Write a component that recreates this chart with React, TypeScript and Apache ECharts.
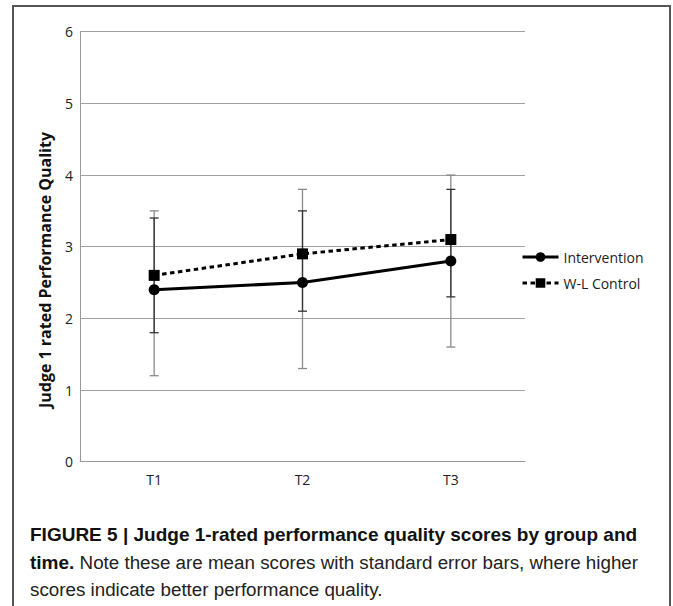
import React, { useEffect, useRef } from "react";
import * as echarts from "echarts";

const categories = ["T1", "T2", "T3"];
const interventionMeans = [2.4, 2.5, 2.8];
const controlMeans = [2.6, 2.9, 3.1];
const interventionLow = [1.2, 1.3, 1.6];
const interventionHigh = [3.5, 3.8, 4.0];
const controlLow = [1.8, 2.1, 2.3];
const controlHigh = [3.4, 3.5, 3.8];
const seriesNames = ["Intervention", "W-L Control"];
const yAxisTitle = "Judge 1 rated Performance Quality";
const captionBold1 = "FIGURE 5 | Judge 1-rated performance quality scores by group and";
const captionBold2 = "time.";
const captionRest2 = " Note these are mean scores with standard error bars, where higher";
const captionLine3 = "scores indicate better performance quality.";

const tickFont = "'Open Sans', 'Noto Sans', sans-serif";
const capFont = "'Liberation Sans', Arial, sans-serif";

function errorBarSeries(name: string, low: number[], high: number[], color: string, z: number) {
  return {
    type: "custom",
    name,
    z,
    silent: true,
    data: categories.map((_, i) => [i, low[i], high[i]]),
    renderItem: (params: any, api: any) => {
      const x = api.value(0);
      const pLo = api.coord([x, api.value(1)]);
      const pHi = api.coord([x, api.value(2)]);
      const w = 4.5;
      const st = { stroke: color, lineWidth: 1.3 };
      return {
        type: "group",
        children: [
          { type: "line", shape: { x1: pHi[0], y1: pHi[1], x2: pLo[0], y2: pLo[1] }, style: st },
          { type: "line", shape: { x1: pHi[0] - w, y1: pHi[1], x2: pHi[0] + w, y2: pHi[1] }, style: st },
          { type: "line", shape: { x1: pLo[0] - w, y1: pLo[1], x2: pLo[0] + w, y2: pLo[1] }, style: st },
        ],
      };
    },
  };
}

export default function App() {
  const ref = useRef<HTMLDivElement>(null);
  useEffect(() => {
    if (!ref.current) return;
    const chart = echarts.init(ref.current, null, { renderer: "svg" });
    chart.setOption({
      animation: false,
      backgroundColor: "#fff",
      grid: { left: 80, top: 31.7, right: 148, bottom: 144.3 },
      legend: {
        data: seriesNames,
        orient: "vertical",
        left: 521,
        top: 250,
        padding: 0,
        itemWidth: 36,
        itemHeight: 12,
        itemGap: 12,
        lineStyle: { width: 3 },
        textStyle: { fontFamily: tickFont, fontSize: 14, color: "#222" },
      },
      xAxis: {
        type: "category",
        data: categories,
        boundaryGap: true,
        axisLine: { show: true, lineStyle: { color: "#999", width: 1 } },
        axisTick: { show: false },
        axisLabel: { fontFamily: tickFont, fontSize: 14, color: "#222", margin: 11 },
      },
      yAxis: {
        type: "value",
        min: 0,
        max: 6,
        interval: 1,
        axisLine: { show: true, lineStyle: { color: "#999", width: 1 } },
        axisTick: { show: false },
        splitLine: { lineStyle: { color: "#a0a0a0", width: 1 } },
        axisLabel: { fontFamily: tickFont, fontSize: 14, color: "#222", margin: 7 },
      },
      graphic: [
        {
          type: "rect",
          shape: { x: 13, y: 6, width: 657, height: 700 },
          style: { fill: "none", stroke: "#555", lineWidth: 2 },
          silent: true,
        },
        {
          type: "text",
          x: 45,
          y: 270,
          rotation: Math.PI / 2,
          style: {
            text: yAxisTitle,
            fontFamily: tickFont,
            fontSize: 16,
            fontWeight: "bold",
            fill: "#111",
            align: "center",
            verticalAlign: "middle",
          },
        },
        {
          type: "text",
          x: 30,
          y: 534,
          style: {
            text: captionBold1,
            fontFamily: capFont,
            fontSize: 19,
            fontWeight: "bold",
            fill: "#111",
            verticalAlign: "middle",
          },
        },
        {
          type: "text",
          x: 30,
          y: 562,
          style: {
            text: "{b|" + captionBold2 + "}{n|" + captionRest2 + "}",
            verticalAlign: "middle",
            rich: {
              b: { fontFamily: capFont, fontSize: 19, fontWeight: "bold", fill: "#111" },
              n: { fontFamily: capFont, fontSize: 18.8, fontWeight: "normal", fill: "#222" },
            },
          },
        },
        {
          type: "text",
          x: 30,
          y: 589,
          style: {
            text: captionLine3,
            fontFamily: capFont,
            fontSize: 18.8,
            fill: "#222",
            verticalAlign: "middle",
          },
        },
      ],
      series: [
        errorBarSeries("errI", interventionLow, interventionHigh, "#8a8a8a", 2),
        errorBarSeries("errC", controlLow, controlHigh, "#333", 3),
        {
          type: "line",
          name: seriesNames[0],
          data: interventionMeans,
          z: 5,
          symbol: "circle",
          symbolSize: 11,
          itemStyle: { color: "#000" },
          lineStyle: { color: "#000", width: 3 },
        },
        {
          type: "line",
          name: seriesNames[1],
          data: controlMeans,
          z: 6,
          symbol: "rect",
          symbolSize: 11,
          itemStyle: { color: "#000" },
          lineStyle: { color: "#000", width: 3, type: [4.5, 3.5] },
        },
      ],
    });
    return () => chart.dispose();
  }, []);
  return (
    <div
      ref={ref}
      style={{ position: "fixed", left: 0, top: 0, width: 673, height: 606, background: "#fff" }}
    />
  );
}
